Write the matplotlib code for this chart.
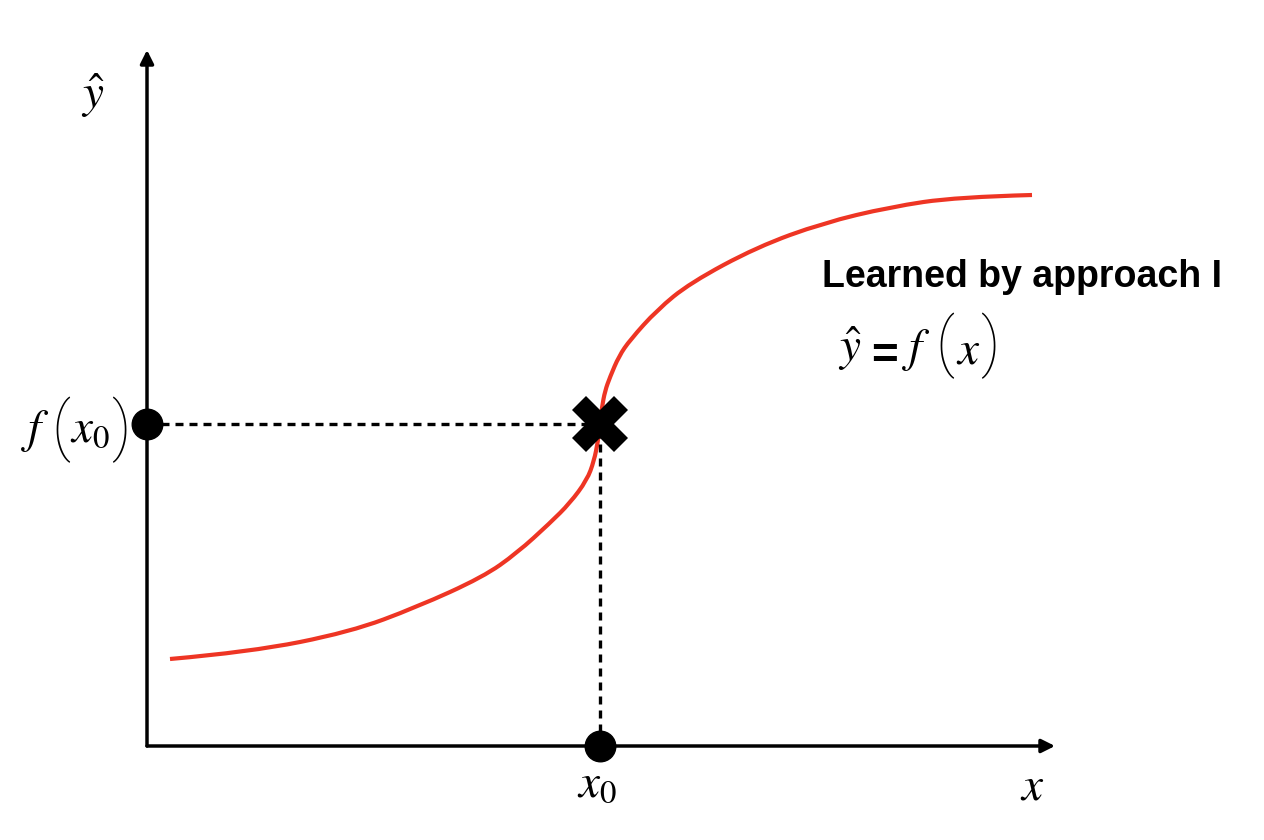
import numpy as np
import matplotlib.pyplot as plt
from matplotlib.path import Path
from matplotlib.patches import PathPatch

plt.rcParams["mathtext.fontset"] = "stix"

# curve (axis units, origin at the axis corner)
curve_x = [0.23, 1.03, 2.03, 2.70, 3.36, 3.70, 4.03, 4.23, 4.40, 4.47, 4.51, 4.53,
           4.55, 4.58, 4.63, 4.72, 4.83, 5.10, 5.43, 6.10, 6.76, 7.43, 8.10, 8.85]
curve_y = [0.87, 0.94, 1.14, 1.39, 1.69, 1.93, 2.23, 2.43, 2.66, 2.85, 3.05, 3.22,
           3.39, 3.55, 3.69, 3.90, 4.06, 4.36, 4.63, 4.99, 5.23, 5.39, 5.49, 5.51]

x0 = 4.53
fx0 = 3.22
x_end = 9.08
y_end = 6.96

fig = plt.figure(figsize=(12.64, 8.4), dpi=100)
ax = fig.add_axes([0, 0, 1, 1])
ax.set_xlim(-1.47, 11.17)
ax.set_ylim(-0.94, 7.46)
ax.axis("off")


def put(px, py, s, size=34, **kw):
    # place text by its pixel position in the layout
    kw.setdefault("ha", "center")
    kw.setdefault("va", "baseline")
    ax.text((px - 147) / 100, (746 - py) / 100, s, fontsize=size, **kw)


def paren(px, py, s, size=46):
    put(px, py, s, size=size, family="Roboto", fontweight="light", va="center")


# axes with arrow heads
arrow = dict(arrowstyle="-|>", lw=2.5, color="black", mutation_scale=20,
             shrinkA=0, shrinkB=0)
ax.annotate("", xy=(x_end, 0), xytext=(0, 0), arrowprops=arrow)
ax.annotate("", xy=(0, y_end), xytext=(0, 0), arrowprops=arrow)

# learned curve, smoothed with quadratic bezier segments through the read points
pts = np.column_stack([curve_x, curve_y])
verts = [pts[0]]
codes = [Path.MOVETO]
for i in range(1, len(pts) - 1):
    mid = (pts[i] + pts[i + 1]) / 2
    end = mid if i < len(pts) - 2 else pts[-1]
    verts += [pts[i], end]
    codes += [Path.CURVE3, Path.CURVE3]
ax.add_patch(PathPatch(Path(verts, codes), fill=False, edgecolor="#EE3524",
                       lw=3, capstyle="butt"))

# dashed guides
ax.plot([0, x0], [fx0, fx0], color="black", lw=2.4, dashes=(2.4, 1.8))
ax.plot([x0, x0], [0, fx0], color="black", lw=2.4, dashes=(2.4, 1.8))

# markers
ax.plot([0, x0], [fx0, 0], "o", color="black", ms=22, zorder=5)
ax.plot([x0], [fx0], "X", color="black", ms=40, mew=0, zorder=6)

# axis labels
put(93, 108, r"$\hat{y}$")
put(597, 797, r"$x_0$")
put(1032, 800, r"$x$")

# f(x0)
put(35, 442, r"$f$")
paren(61, 430, "(")
put(70, 442, r"$x_0$", ha="left")
paren(121, 430, ")")

# annotation
put(822, 287, "Learned by approach I", size=27, fontweight="bold",
    family="Liberation Sans", ha="left")
put(850, 361, r"$\hat{y}$")
put(885, 369, "=", size=33, family="Liberation Sans", fontweight="bold")
put(916, 361, r"$f$")
paren(945, 346, "(")
put(968, 364, r"$x$")
paren(990, 346, ")")

fig.savefig("out.png", dpi=100)
